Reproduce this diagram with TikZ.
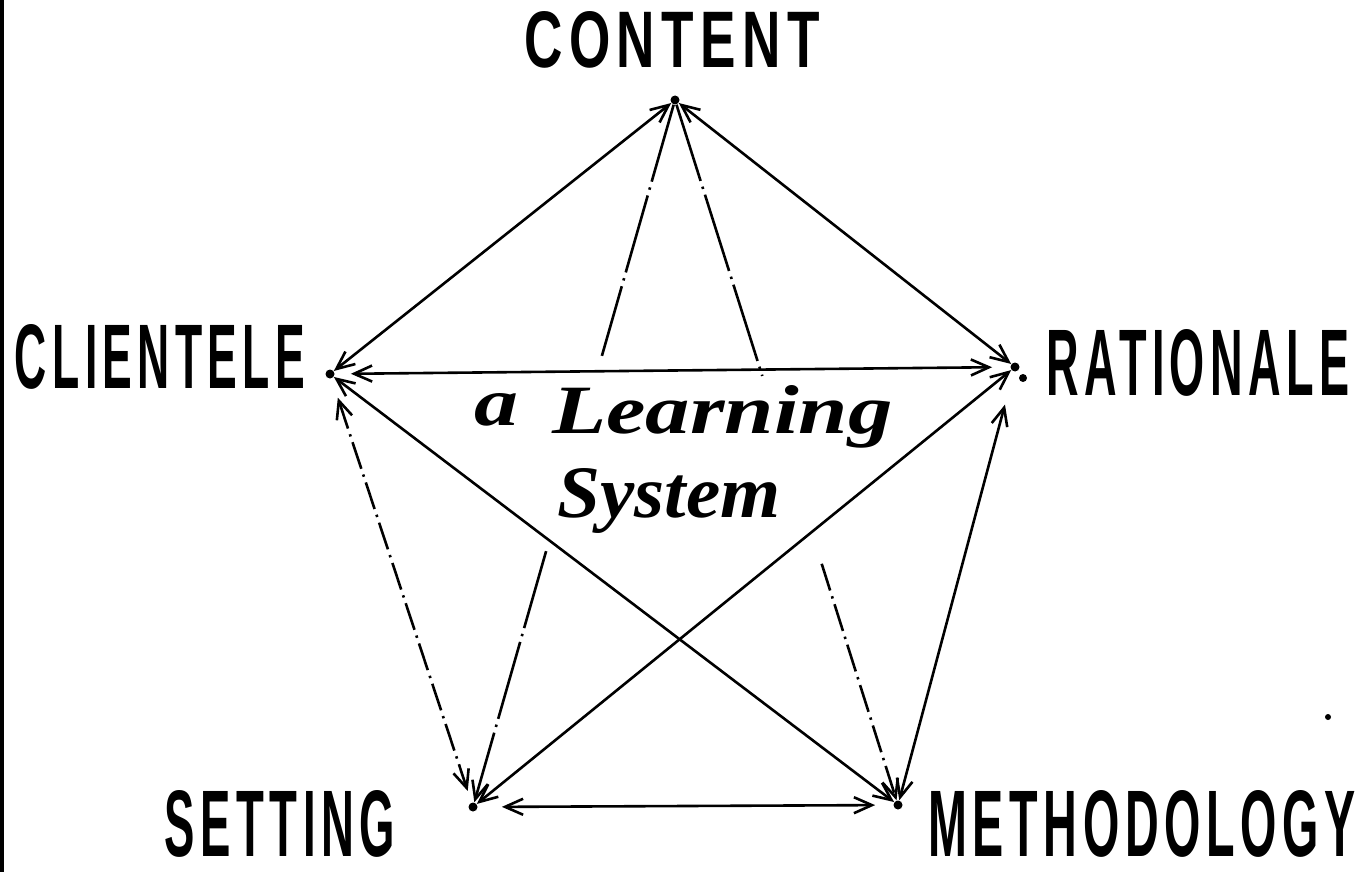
\documentclass[tikz,border=0pt]{standalone}
\usepackage{fontspec}
\setmainfont{Liberation Sans}
\newfontfamily\capsfont[LetterSpace=12]{Liberation Sans}
\newfontfamily\handfont{Liberation Serif}
\usetikzlibrary{arrows.meta}
\begin{document}
\begin{tikzpicture}[x=0.5pt,y=-0.5pt,
  dot/.style={circle,fill=black,inner sep=0pt,minimum size=4.5pt},
  lbl/.style={inner sep=0pt,anchor=center,font=\capsfont\bfseries},
  hand/.style={inner sep=0pt,anchor=base west,font=\handfont\bfseries\itshape},
  barb/.tip={Straight Barb[length=9pt,width=8pt,line width=1.3pt]},
  link/.style={line width=1.3pt,barb-barb},
  plain/.style={line width=1.3pt},
  onearrow/.style={line width=1.3pt,-barb},
  dashdot/.style={dash pattern=on 14pt off 3pt on 1.2pt off 3pt},
  mixed/.style={dash pattern=on 40pt off 3pt on 1.2pt off 3pt}]
\useasboundingbox (0,0) rectangle (1364,872);
\fill[white] (0,0) rectangle (1364,872);
\fill[black] (0,0) rectangle (4,872);
% junction points
\node[dot] (C) at (675,100) {};
\node[dot] (Cl) at (330,374) {};
\node[dot] (R) at (1015,367) {};
\node[dot] (S) at (473,807) {};
\node[dot] (M) at (898,805) {};
\fill (1023,378) circle (2pt);
% labels
\node[lbl] (tC) at (672,40) {\resizebox{147.5pt}{28pt}{CONTENT}};
\node[lbl] (tCl) at (160,357) {\resizebox{145pt}{32pt}{CLIENTELE}};
\node[lbl] (tR) at (1198,363) {\resizebox{151.5pt}{33pt}{RATIONALE}};
\node[lbl] (tS) at (280,824) {\resizebox{115pt}{33pt}{SETTING}};
\node[lbl] (tM) at (1142,824) {\resizebox{213.5pt}{33pt}{METHODOLOGY}};
\node[hand] (ta) at (474,425) {\resizebox{22pt}{16pt}{a}};
\node[hand] (tL) at (552,433) {\resizebox{170pt}{24pt}{Learning}};
\node[hand] (tSy) at (557,517) {\resizebox{111.5pt}{24.5pt}{System}};
% split points of the two inner lines from CONTENT
\path (C) -- (S) coordinate[pos=0.36] (cs1) coordinate[pos=0.64] (cs2);
\path (C) -- (M) coordinate[pos=0.39] (cm1) coordinate[pos=0.66] (cm2);
% connectors
\draw[link] (C) -- (Cl);
\draw[link] (C) -- (R);
\draw[plain,mixed] (C) -- (cs1);
\draw[onearrow,mixed] (cs2) -- (S);
\draw[plain,mixed] (C) -- (cm1);
\draw[onearrow,dashdot] (cm2) -- (M);
\draw[link,shorten <=9pt,shorten >=8pt] (R) -- (Cl);
\draw[link] (Cl) -- (M);
\draw[link] (R) -- (S);
\draw[link,dashdot,shorten <=10pt,shorten >=6pt] (Cl) -- (S);
\draw[link,shorten <=17pt] (R) -- (M);
\draw[link,shorten <=12pt,shorten >=9pt] (S) -- (M);
\fill (1328,717) circle (1.5pt);
\end{tikzpicture}
\end{document}
